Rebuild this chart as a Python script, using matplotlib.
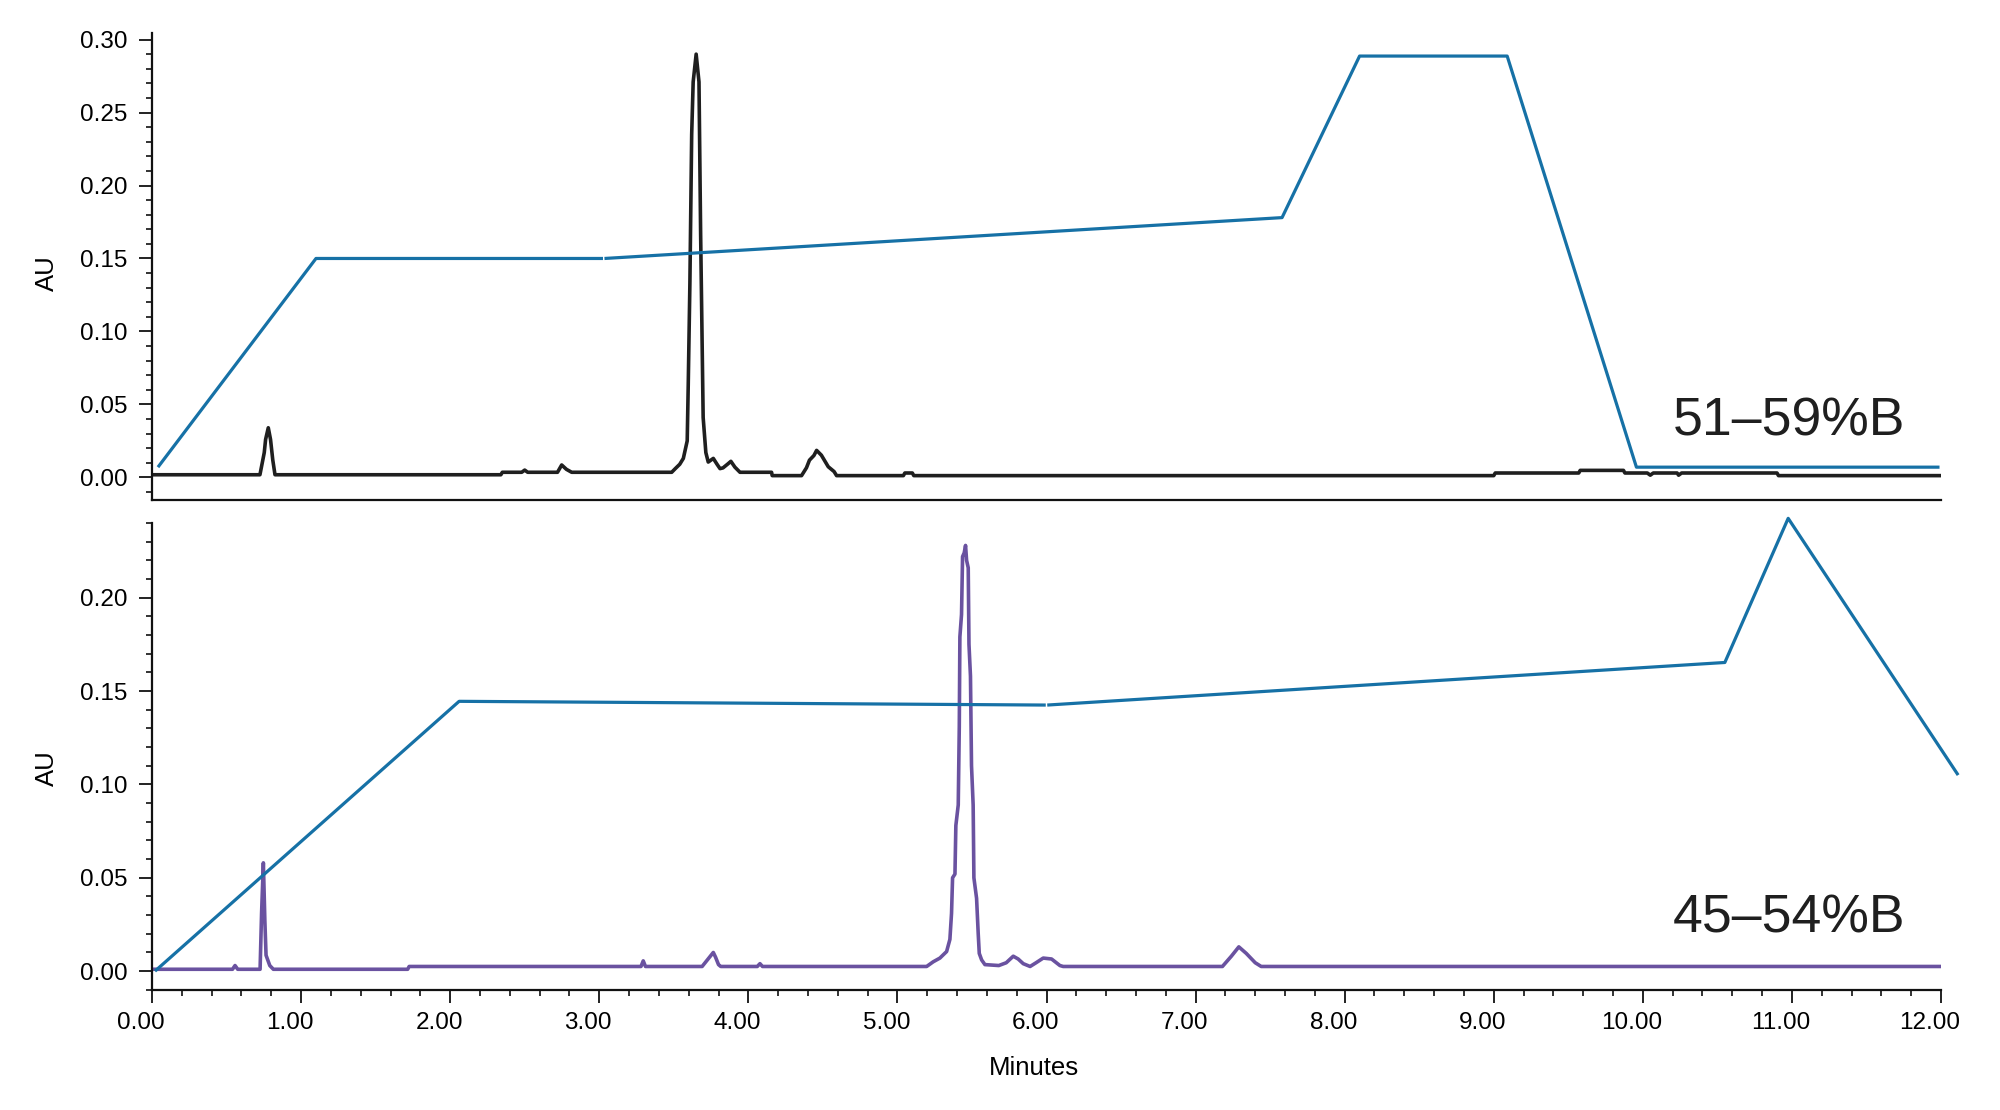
import numpy as np
import matplotlib
matplotlib.use("Agg")
import matplotlib.pyplot as plt
from matplotlib.ticker import MultipleLocator, FormatStrFormatter
from matplotlib.transforms import ScaledTranslation

plt.rcParams['font.family'] = ['Liberation Sans', 'DejaVu Sans']

# ---- data (minutes, AU) ----
top_t = [0.0, 0.724, 0.753, 0.762, 0.78, 0.795, 0.81, 0.825, 2.34, 2.35, 2.48, 2.50, 2.52,
         2.72, 2.748, 2.78, 2.815, 3.486, 3.51, 3.54, 3.564, 3.59, 3.597, 3.608, 3.62, 3.63,
         3.65, 3.669, 3.68, 3.697, 3.715, 3.731, 3.765, 3.79, 3.81, 3.83, 3.86, 3.883, 3.91,
         3.944, 4.156, 4.16, 4.357, 4.39, 4.41, 4.44, 4.458, 4.49, 4.536, 4.575, 4.592, 5.04,
         5.05, 5.10, 5.11, 9.0, 9.01, 9.57, 9.58, 9.87, 9.88, 10.03, 10.05, 10.07, 10.23,
         10.24, 10.26, 10.9, 10.91, 12.0]
top_au = [0.0018, 0.0018, 0.017, 0.026, 0.034, 0.026, 0.012, 0.0018, 0.0018, 0.0035, 0.0035,
          0.005, 0.0035, 0.0035, 0.0085, 0.0055, 0.0035, 0.0035, 0.006, 0.009, 0.013, 0.025,
          0.064, 0.133, 0.235, 0.271, 0.290, 0.271, 0.167, 0.041, 0.017, 0.0105, 0.013, 0.009,
          0.006, 0.0065, 0.009, 0.011, 0.007, 0.0035, 0.0035, 0.0012, 0.0012, 0.0066, 0.0118,
          0.015, 0.0185, 0.0152, 0.0073, 0.004, 0.0012, 0.0012, 0.003, 0.003, 0.0012, 0.0012,
          0.003, 0.003, 0.0048, 0.0048, 0.003, 0.003, 0.0015, 0.003, 0.003, 0.0015, 0.003,
          0.003, 0.0012, 0.0012]

bot_t = [0.0, 0.54, 0.557, 0.575, 0.725, 0.735, 0.747, 0.757, 0.765, 0.79, 0.814, 1.715,
         1.725, 3.28, 3.295, 3.31, 3.69, 3.71, 3.74, 3.765, 3.78, 3.80, 3.815, 4.06, 4.078,
         4.095, 5.196, 5.24, 5.285, 5.33, 5.352, 5.363, 5.37, 5.386, 5.392, 5.408, 5.415,
         5.419, 5.43, 5.437, 5.448, 5.457, 5.464, 5.475, 5.48, 5.49, 5.497, 5.508, 5.513,
         5.531, 5.542, 5.549, 5.565, 5.587, 5.68, 5.73, 5.777, 5.81, 5.844, 5.89, 5.93,
         5.978, 6.034, 6.09, 6.112, 7.18, 7.24, 7.29, 7.34, 7.40, 7.44, 12.0]
bot_au = [0.001, 0.001, 0.003, 0.001, 0.001, 0.031, 0.058, 0.027, 0.0085, 0.003, 0.001,
          0.001, 0.0025, 0.0025, 0.0055, 0.0025, 0.0025, 0.0045, 0.0075, 0.0100, 0.0075,
          0.0035, 0.0025, 0.0025, 0.004, 0.0025, 0.0025, 0.005, 0.007, 0.0105, 0.017, 0.031,
          0.050, 0.052, 0.078, 0.089, 0.131, 0.179, 0.191, 0.222, 0.224, 0.228, 0.220, 0.216,
          0.175, 0.158, 0.110, 0.089, 0.050, 0.039, 0.020, 0.0095, 0.006, 0.0035, 0.003,
          0.0045, 0.008, 0.0065, 0.004, 0.0025, 0.0045, 0.007, 0.0065, 0.003, 0.0025, 0.0025,
          0.008, 0.013, 0.0095, 0.0045, 0.0025, 0.0025]

# gradient profiles (drawn on the AU scale)
top_grad_t1 = [0.04, 1.10, 3.025]
top_grad_y1 = [0.007, 0.150, 0.150]
top_grad_t2 = [3.035, 7.58, 8.10, 9.09, 9.957, 11.99]
top_grad_y2 = [0.150, 0.178, 0.2887, 0.2887, 0.007, 0.007]

bot_grad_t1 = [0.02, 2.06, 5.995]
bot_grad_y1 = [0.0, 0.1445, 0.1425]
bot_grad_t2 = [6.005, 10.55, 10.975, 12.115]
bot_grad_y2 = [0.1425, 0.1653, 0.2425, 0.105]

labels = ["51\u201359%B", "45\u201354%B"]

grad_color = "#1671a6"
black = "#1f1f1f"
purple = "#6a52a0"

fig = plt.figure(figsize=(20, 11.1), dpi=100)
ax1 = fig.add_axes([152 / 2000, 610 / 1110, 1789 / 2000, 467 / 1110])
ax2 = fig.add_axes([152 / 2000, 120 / 1110, 1789 / 2000, 467 / 1110])

ax1.plot(top_t, top_au, color=black, lw=2.6)
ax1.plot(top_grad_t1, top_grad_y1, color=grad_color, lw=2.3, solid_capstyle='butt')
ax1.plot(top_grad_t2, top_grad_y2, color=grad_color, lw=2.3, solid_capstyle='butt')

ax2.plot(bot_t, bot_au, color=purple, lw=2.6)
ax2.plot(bot_grad_t1, bot_grad_y1, color=grad_color, lw=2.3, solid_capstyle='butt')
ax2.plot(bot_grad_t2, bot_grad_y2, color=grad_color, lw=2.3, solid_capstyle='butt',
         clip_on=False)

ax1.set_ylim(-0.0155, 0.3045)
ax2.set_ylim(-0.0101, 0.24)

for ax in (ax1, ax2):
    ax.set_xlim(0, 12)
    ax.spines['top'].set_visible(False)
    ax.spines['right'].set_visible(False)
    for s in ('left', 'bottom'):
        ax.spines[s].set_linewidth(1.6)
        ax.spines[s].set_color('#111111')
    ax.yaxis.set_major_locator(MultipleLocator(0.05))
    ax.yaxis.set_minor_locator(MultipleLocator(0.01))
    ax.yaxis.set_major_formatter(FormatStrFormatter('%.2f'))
    ax.tick_params(axis='y', which='major', length=9.5, width=1.3, pad=8,
                   labelsize=17.5, color='#111111')
    ax.tick_params(axis='y', which='minor', length=4.5, width=1.2, color='#111111')
    ax.set_ylabel("AU", fontsize=18.5)

ax1.tick_params(axis='x', which='both', bottom=False, labelbottom=False)

ax2.xaxis.set_major_locator(MultipleLocator(1))
ax2.xaxis.set_minor_locator(MultipleLocator(0.2))
ax2.xaxis.set_major_formatter(FormatStrFormatter('%.2f'))
ax2.tick_params(axis='x', which='major', length=9.5, width=1.3, pad=6.5,
                labelsize=17.5, color='#111111')
ax2.tick_params(axis='x', which='minor', length=4.5, width=1.2, color='#111111')
ax2.set_xlabel("Minutes", fontsize=18.5, labelpad=15.5)
ax2.xaxis.label.set_x(0.493)

shift = ScaledTranslation(-0.11, 0, fig.dpi_scale_trans)
for lab in ax2.get_xticklabels():
    lab.set_transform(lab.get_transform() + shift)

ax1.yaxis.set_label_coords(-0.052, 0.486)
ax2.yaxis.set_label_coords(-0.052, 0.475)

ax1.text(10.98, 0.038, labels[0], fontsize=38.5, ha='center', va='center', color=black)
ax2.text(10.98, 0.028, labels[1], fontsize=38.5, ha='center', va='center', color=black)

fig.savefig("out.png", dpi=100, facecolor='white')
